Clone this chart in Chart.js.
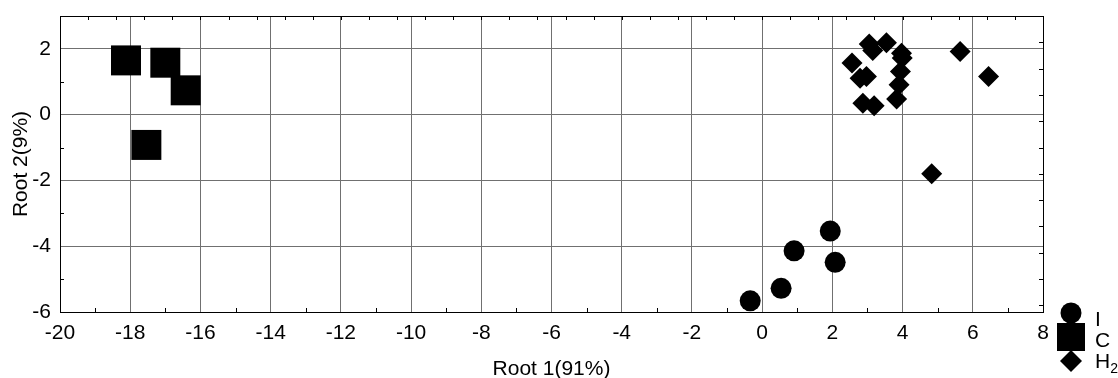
<!DOCTYPE html>
<html>
<head>
<meta charset="utf-8">
<script src="https://cdn.jsdelivr.net/npm/chart.js@4/dist/chart.umd.min.js"></script>
<style>
  html, body { margin: 0; padding: 0; background: #fff; }
  #wrap { width: 1118px; height: 378px; }
</style>
</head>
<body>
<div id="wrap"><canvas id="chart"></canvas></div>
<script>
// axis ticks
const xTickValues = [-20, -18, -16, -14, -12, -10, -8, -6, -4, -2, 0, 2, 4, 6, 8];
const yTickValues = [-6, -4, -2, 0, 2];

// group I (circles)
const iX = [-0.34, 0.54, 0.91, 1.94, 2.08];
const iY = [-5.66, -5.28, -4.14, -3.54, -4.49];

// group C (squares)
const cX = [-18.12, -17.0, -16.42, -17.54];
const cY = [1.65, 1.58, 0.74, -0.92];

// group H2 (diamonds)
const h2X = [2.56, 2.79, 2.97, 2.87, 3.19, 3.05, 3.15, 3.54, 3.97, 3.99, 3.94, 3.90, 3.83, 5.64, 6.45, 4.83];
const h2Y = [1.57, 1.11, 1.16, 0.35, 0.27, 2.15, 1.95, 2.19, 1.87, 1.72, 1.31, 0.91, 0.48, 1.92, 1.16, -1.80];

const legendNames = ['I', 'C', 'H'];
const legendSubs = ['', '', '2'];

const FONT = '"Liberation Sans", Arial, sans-serif';
const FS = 21;

const toPoints = (xs, ys) => xs.map((x, i) => ({ x: x, y: ys[i] }));

// frame, inner minor ticks and legend
const extras = {
  id: 'extras',
  afterDraw(chart) {
    const ctx = chart.ctx;
    const a = chart.chartArea;
    const xs = chart.scales.x, ys = chart.scales.y;
    const len = 4;
    ctx.save();
    ctx.strokeStyle = '#000';
    ctx.lineWidth = 1;
    ctx.beginPath();
    // bottom / left: odd values
    for (let v = -19; v < 8; v += 2) {
      const px = Math.round(xs.getPixelForValue(v)) + 0.5;
      ctx.moveTo(px, a.bottom); ctx.lineTo(px, a.bottom - len);
    }
    for (let v = -5; v < 3; v += 2) {
      const py = Math.round(ys.getPixelForValue(v)) + 0.5;
      ctx.moveTo(a.left, py); ctx.lineTo(a.left + len, py);
    }
    // top / right: every 0.8
    for (let k = 1; k < 35; k++) {
      const px = Math.round(xs.getPixelForValue(-20 + k * 0.8)) + 0.5;
      ctx.moveTo(px, a.top); ctx.lineTo(px, a.top + len);
    }
    for (let k = 1; k < 12; k++) {
      const py = Math.round(ys.getPixelForValue(3 - k * 0.8)) + 0.5;
      ctx.moveTo(a.right, py); ctx.lineTo(a.right - len, py);
    }
    ctx.stroke();
    ctx.strokeRect(Math.round(a.left) + 0.5, Math.round(a.top) + 0.5,
                   Math.round(a.right - a.left), Math.round(a.bottom - a.top));

    // legend
    ctx.fillStyle = '#000';
    const lx = 1071;
    ctx.beginPath();
    ctx.arc(lx, 313, 10.5, 0, Math.PI * 2);
    ctx.fill();
    ctx.fillRect(lx - 14, 323, 28, 28);
    ctx.beginPath();
    ctx.moveTo(lx - 11, 361); ctx.lineTo(lx, 350); ctx.lineTo(lx + 11, 361); ctx.lineTo(lx, 372);
    ctx.closePath();
    ctx.fill();
    const ly = [320, 341, 362];
    ctx.textBaseline = 'middle';
    ctx.textAlign = 'left';
    legendNames.forEach((n, i) => {
      ctx.font = FS + 'px ' + FONT;
      ctx.fillText(n, 1095, ly[i]);
      if (legendSubs[i]) {
        const w = ctx.measureText(n).width;
        ctx.font = '14px ' + FONT;
        ctx.fillText(legendSubs[i], 1095 + w, ly[i] + 7);
      }
    });
    ctx.restore();
  }
};

new Chart(document.getElementById('chart'), {
  type: 'scatter',
  data: {
    datasets: [
      { label: 'I', data: toPoints(iX, iY), pointStyle: 'circle', pointRadius: 10.5,
        backgroundColor: '#000', borderColor: '#000', borderWidth: 0 },
      { label: 'C', data: toPoints(cX, cY), pointStyle: 'rect', pointRadius: 21.2,
        backgroundColor: '#000', borderColor: '#000', borderWidth: 0 },
      { label: 'H2', data: toPoints(h2X, h2Y), pointStyle: 'rectRot', pointRadius: 10.5,
        backgroundColor: '#000', borderColor: '#000', borderWidth: 0 }
    ]
  },
  options: {
    responsive: true,
    maintainAspectRatio: false,
    animation: false,
    layout: { autoPadding: false, padding: { top: 16, right: 75, left: 0, bottom: 0 } },
    plugins: { legend: { display: false }, tooltip: { enabled: false } },
    scales: {
      x: {
        type: 'linear', min: -20, max: 8,
        afterFit: (s) => { s.height = 66; s.paddingLeft = 0; s.paddingRight = 0; },
        afterBuildTicks: (s) => { s.ticks = xTickValues.map(v => ({ value: v })); },
        grid: { color: '#707070', drawTicks: false },
        border: { color: '#000' },
        ticks: { color: '#000', font: { family: FONT, size: FS }, padding: 9, maxRotation: 0 },
        title: { display: true, text: 'Root 1(91%)', color: '#000',
                 font: { family: FONT, size: FS }, padding: { top: 0, bottom: -4 } }
      },
      y: {
        type: 'linear', min: -6, max: 3,
        afterFit: (s) => { s.width = 60; s.paddingTop = 0; s.paddingBottom = 0; },
        afterBuildTicks: (s) => { s.ticks = yTickValues.map(v => ({ value: v })); },
        grid: { color: '#707070', drawTicks: false },
        border: { color: '#000' },
        ticks: { color: '#000', font: { family: FONT, size: FS }, padding: 9 },
        title: { display: true, text: 'Root 2(9%)', color: '#000',
                 font: { family: FONT, size: FS }, padding: { top: 9, bottom: 0 } }
      }
    }
  },
  plugins: [extras]
});
</script>
</body>
</html>
